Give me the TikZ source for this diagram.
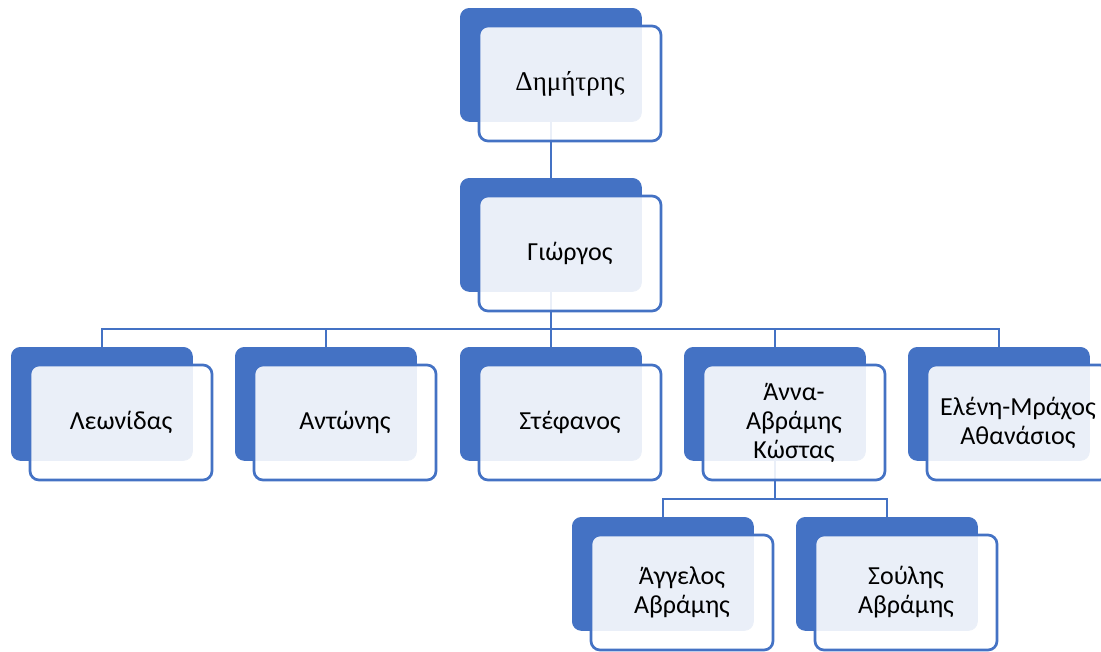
\documentclass[tikz,border=0pt]{standalone}
\usepackage{fontspec}
\setmainfont{Liberation Serif}
\newfontfamily\calfont{Carlito}
\usetikzlibrary{backgrounds}
\definecolor{accent}{HTML}{4472C4}
\tikzset{
  backbox/.style={anchor=north west, fill=accent, draw=accent, line width=0.8pt,
    rounded corners=9pt, minimum width=181pt, minimum height=113pt, inner sep=0pt},
  frontbox/.style={anchor=center, fill=white, fill opacity=0.89, text opacity=1,
    draw=accent, line width=2.7pt, rounded corners=9pt,
    minimum width=182pt, minimum height=115pt, inner sep=0pt,
    align=center, font=\calfont\fontsize{26}{29}\selectfont},
  link/.style={draw=accent, line width=2.8pt}
}
\newcommand{\famnode}[4]{%
  \node[backbox] (#1b) at (#2,#3) {};
  \node[frontbox] (#1) at ([xshift=110pt,yshift=-75.5pt]#1b.north west) {#4};
}
\begin{document}
\begin{tikzpicture}[x=1pt,y=-1pt]
\useasboundingbox (0,0) rectangle (1101,651);
\clip (0,0) rectangle (1101,651);
\famnode{dim}{460}{8}{{\rmfamily\fontsize{27}{30}\selectfont Δημήτρης}}
\famnode{gio}{460}{178}{Γιώργος}
\famnode{leo}{11}{347}{Λεωνίδας}
\famnode{ant}{235}{347}{Αντώνης}
\famnode{ste}{460}{347}{Στέφανος}
\famnode{ann}{684}{347}{Άννα-\\Αβράμης\\Κώστας}
\famnode{ele}{908}{347}{Ελένη-Μράχος\\Αθανάσιος}
\famnode{ang}{572}{517}{Άγγελος\\Αβράμης}
\famnode{sou}{796}{517}{Σούλης\\Αβράμης}
\coordinate (bar) at (0,329);
\coordinate (bar2) at (0,499);
\begin{scope}[on background layer]
  \draw[link] (dimb.south) -- (giob.north);
  \draw[link] (giob.south) -- (giob.south |- bar);
  \draw[link] (leob.north) -- (leob.north |- bar) -- (eleb.north |- bar) -- (eleb.north);
  \draw[link] (antb.north) -- (antb.north |- bar);
  \draw[link] (steb.north) -- (steb.north |- bar);
  \draw[link] (annb.north) -- (annb.north |- bar);
  \draw[link] (annb.south) -- (annb.south |- bar2);
  \draw[link] (angb.north) -- (angb.north |- bar2) -- (soub.north |- bar2) -- (soub.north);
\end{scope}
\end{tikzpicture}
\end{document}
